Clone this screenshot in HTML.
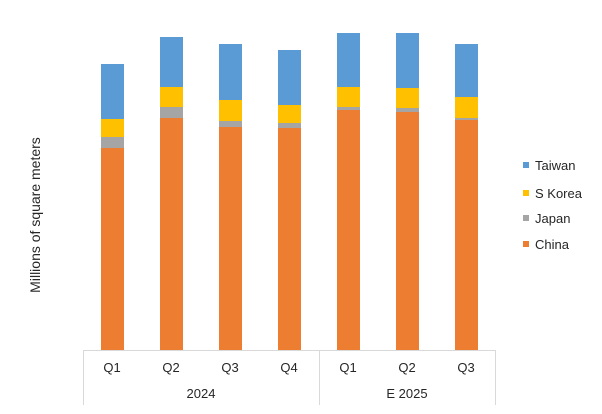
<!DOCTYPE html><html><head><style>body{margin:0;background:#fff}</style></head><body>
<svg width="602" height="409" xmlns="http://www.w3.org/2000/svg" font-family="Liberation Sans, sans-serif" fill="#262626">
<g id="bars"></g>
<g>
<!-- bars -->
<rect x="101" y="148" width="23" height="202" fill="#ED7D31"/><rect x="101" y="137" width="23" height="11" fill="#A5A5A5"/><rect x="101" y="119" width="23" height="18" fill="#FFC000"/><rect x="101" y="64" width="23" height="55" fill="#5B9BD5"/>
<rect x="160" y="118" width="23" height="232" fill="#ED7D31"/><rect x="160" y="107" width="23" height="11" fill="#A5A5A5"/><rect x="160" y="87" width="23" height="20" fill="#FFC000"/><rect x="160" y="37" width="23" height="50" fill="#5B9BD5"/>
<rect x="219" y="127" width="23" height="223" fill="#ED7D31"/><rect x="219" y="121" width="23" height="6" fill="#A5A5A5"/><rect x="219" y="100" width="23" height="21" fill="#FFC000"/><rect x="219" y="44" width="23" height="56" fill="#5B9BD5"/>
<rect x="278" y="128" width="23" height="222" fill="#ED7D31"/><rect x="278" y="123" width="23" height="5" fill="#A5A5A5"/><rect x="278" y="105" width="23" height="18" fill="#FFC000"/><rect x="278" y="50" width="23" height="55" fill="#5B9BD5"/>
<rect x="337" y="110" width="23" height="240" fill="#ED7D31"/><rect x="337" y="107" width="23" height="3" fill="#A5A5A5"/><rect x="337" y="87" width="23" height="20" fill="#FFC000"/><rect x="337" y="33" width="23" height="54" fill="#5B9BD5"/>
<rect x="396" y="112" width="23" height="238" fill="#ED7D31"/><rect x="396" y="108" width="23" height="4" fill="#A5A5A5"/><rect x="396" y="88" width="23" height="20" fill="#FFC000"/><rect x="396" y="33" width="23" height="55" fill="#5B9BD5"/>
<rect x="455" y="120" width="23" height="230" fill="#ED7D31"/><rect x="455" y="118" width="23" height="2" fill="#A5A5A5"/><rect x="455" y="97" width="23" height="21" fill="#FFC000"/><rect x="455" y="44" width="23" height="53" fill="#5B9BD5"/>
</g>
<g stroke="#D9D9D9" stroke-width="1">
<line x1="83" y1="350.5" x2="496" y2="350.5"/>
<line x1="83.5" y1="350" x2="83.5" y2="405"/>
<line x1="319.5" y1="350" x2="319.5" y2="405"/>
<line x1="495.5" y1="350" x2="495.5" y2="405"/>
</g>
<g font-size="13" text-anchor="middle">
<text x="112" y="372">Q1</text><text x="171" y="372">Q2</text><text x="230" y="372">Q3</text><text x="289" y="372">Q4</text>
<text x="348" y="372">Q1</text><text x="407" y="372">Q2</text><text x="466" y="372">Q3</text>
<text x="201" y="398">2024</text><text x="407" y="398">E 2025</text>
<text transform="translate(40,215) rotate(-90)" font-size="14">Millions of square meters</text>
</g>
<g font-size="13">
<rect x="523" y="162" width="6" height="6" fill="#5B9BD5"/><text x="535" y="170">Taiwan</text>
<rect x="523" y="190" width="6" height="6" fill="#FFC000"/><text x="535" y="198">S Korea</text>
<rect x="523" y="215" width="6" height="6" fill="#A5A5A5"/><text x="535" y="223">Japan</text>
<rect x="523" y="241" width="6" height="6" fill="#ED7D31"/><text x="535" y="249">China</text>
</g>
</svg>
</body></html>
